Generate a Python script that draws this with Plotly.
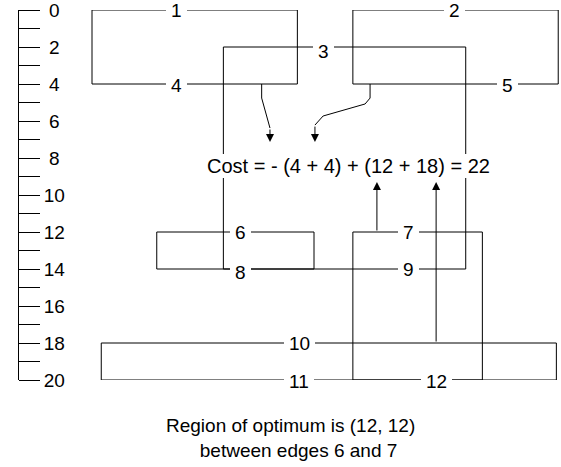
import plotly.graph_objects as go

NBSP = "\u00a0"
FONT = "Liberation Sans, Arial, Helvetica, sans-serif"

# ---- y axis (grid units) ----
y_min, y_max = 0, 20
tick_values = list(range(0, 21))
tick_labels = [(NBSP + str(v) if v < 10 else str(v)) if v % 2 == 0 else "" for v in tick_values]

# ---- net bounding boxes (x in grid units, y in grid units) ----
box_names = ["net_1_4", "net_2_5", "net_3_8_9", "net_6_8", "net_7_12", "net_10_11"]
box_x0 = [4.0, 18.1, 11.1, 7.5, 18.1, 4.5]
box_x1 = [15.1, 29.2, 24.2, 16.0, 25.1, 29.1]
box_y0 = [0, 0, 2, 12, 12, 18]
box_y1 = [4, 4, 14, 14, 20, 20]

# ---- edge labels ----
edge_labels = ["1", "2", "3", "4", "5", "6", "7", "8", "9", "10", "11", "12"]
edge_label_x = [8.54, 23.57, 16.5, 8.54, 26.46, 12.0, 21.1, 12.0, 21.1, 15.2, 15.2, 22.6]
edge_label_y = [0.05, 0.05, 2.22, 4.1, 4.1, 12.03, 12.05, 14.19, 14.05, 18.05, 20.0, 20.0]

# ---- arrow paths (last point = arrow tip) ----
down_arrow1_x = [13.17, 13.17, 13.62, 13.62]
down_arrow1_y = [4.0, 4.76, 6.38, 7.14]
down_arrow2_x = [19.03, 19.03, 18.76, 16.49, 16.05, 16.05]
down_arrow2_y = [4.0, 4.76, 5.08, 5.73, 6.22, 7.14]
up_arrow1_x = [19.4, 19.4]
up_arrow1_y = [12.0, 9.3]
up_arrow2_x = [22.6, 22.6]
up_arrow2_y = [18.0, 9.3]

# ---- texts ----
cost_text = "Cost = - (4 + 4) + (12 + 18) = 22"
cost_pos = (17.86, 8.43)
note_lines = ["Region of optimum is (12, 12)", NBSP * 3 + "between edges 6 and 7"]
note_pos = (14.73, 23.12)


def y_to_paper(v):
    # y axis is reversed: y_min at top (paper 1), y_max at bottom (paper 0)
    return 1 - (v - y_min) / (y_max - y_min)


fig = go.Figure()

line_style = dict(color="black", width=1)

for name, x0, x1, y0, y1 in zip(box_names, box_x0, box_x1, box_y0, box_y1):
    fig.add_trace(go.Scatter(
        x=[x0, x1, x1, x0, x0], y=[y0, y0, y1, y1, y0],
        mode="lines", line=line_style, name=name,
        hoverinfo="skip", showlegend=False, cliponaxis=False))

arrows = [(down_arrow1_x, down_arrow1_y), (down_arrow2_x, down_arrow2_y),
          (up_arrow1_x, up_arrow1_y), (up_arrow2_x, up_arrow2_y)]

for ax_, ay_ in arrows:
    if len(ax_) > 2:
        fig.add_trace(go.Scatter(
            x=ax_[:-1], y=ay_[:-1], mode="lines", line=line_style,
            hoverinfo="skip", showlegend=False, cliponaxis=False))

annotations = []
annotations.append(dict(
    x=cost_pos[0], y=cost_pos[1], xref="x", yref="y", text=cost_text,
    showarrow=False, bgcolor="white", borderpad=1, borderwidth=0,
    font=dict(family=FONT, size=20, color="black")))

annotations.append(dict(
    x=note_pos[0], y=y_to_paper(note_pos[1]), xref="x", yref="paper",
    xanchor="center", yanchor="middle", align="center",
    text="<br>".join(note_lines), showarrow=False,
    font=dict(family=FONT, size=19, color="black")))

for t, x, y in zip(edge_labels, edge_label_x, edge_label_y):
    annotations.append(dict(
        x=x, y=y, xref="x", yref="y", text=t, showarrow=False,
        bgcolor="white", borderpad=5, borderwidth=0,
        yshift=-1 if y >= y_max else 0,
        font=dict(family=FONT, size=19, color="black")))

for ax_, ay_ in arrows:
    annotations.append(dict(
        x=ax_[-1], y=ay_[-1], ax=ax_[-2], ay=ay_[-2],
        xref="x", yref="y", axref="x", ayref="y", text="",
        showarrow=True, arrowhead=2, arrowsize=1.6, arrowwidth=1,
        arrowcolor="black", standoff=0, startstandoff=0))

fig.update_layout(
    width=561, height=467,
    margin=dict(l=18, r=0, t=10, b=87, pad=0),
    paper_bgcolor="white", plot_bgcolor="white",
    showlegend=False,
    annotations=annotations,
    xaxis=dict(range=[0, 29.35], visible=False, fixedrange=True),
    yaxis=dict(
        range=[y_max, y_min], tickmode="array", tickvals=tick_values, ticktext=tick_labels,
        side="right", anchor="free", position=0,
        ticks="outside", ticklen=21, tickwidth=1, tickcolor="black",
        showline=True, linecolor="black", linewidth=1,
        showgrid=False, zeroline=False, ticklabeloverflow="allow",
        tickfont=dict(family=FONT, size=19, color="black"), fixedrange=True),
)

fig.write_html("out.html", config={"displayModeBar": False},
               post_script="document.body.style.margin='0';")
